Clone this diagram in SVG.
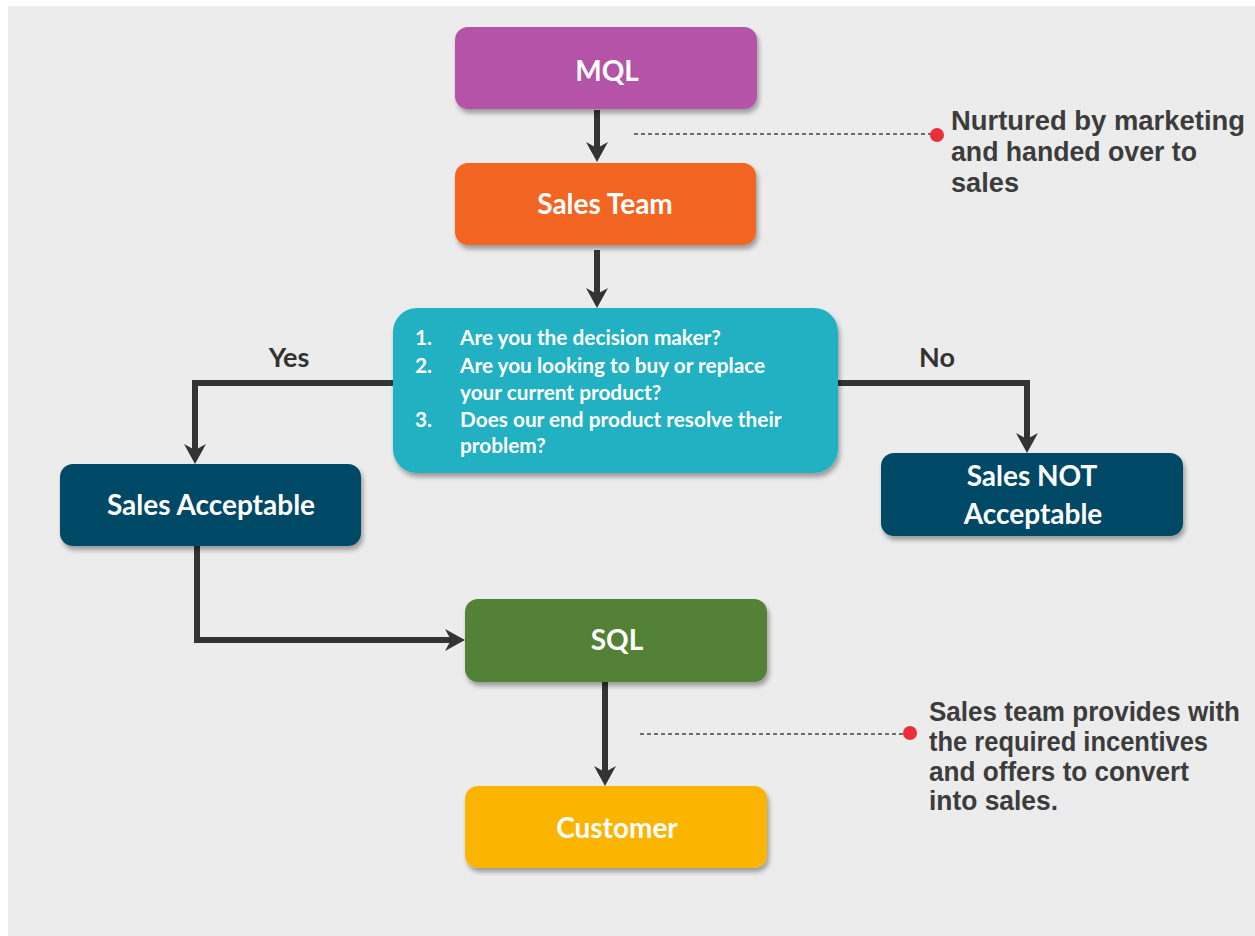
<svg xmlns="http://www.w3.org/2000/svg" width="1255" height="936" viewBox="0 0 1255 936">
<style>
.lbl{font-family:Lato,"Open Sans","Liberation Sans",sans-serif;font-weight:bold;fill:#ffffff;text-anchor:middle;font-size:28px}
.q{font-family:Lato,"Open Sans","Liberation Sans",sans-serif;font-weight:bold;fill:#ffffff;font-size:20.8px}
.note{font-family:"Liberation Sans",Arial,sans-serif;font-weight:bold;fill:#3c3c3c;font-size:27px}
.yn{font-family:Lato,"Open Sans","Liberation Sans",sans-serif;font-weight:bold;fill:#333333;font-size:27px;text-anchor:middle}
.conn{fill:none;stroke:#333333;stroke-width:6;marker-end:url(#ah)}
.dash{fill:none;stroke:#444444;stroke-width:1.5;stroke-dasharray:4 3}
.dot{fill:#e8303a}
</style>
<defs>
<filter id="sh" x="-10%" y="-10%" width="130%" height="140%">
<feGaussianBlur in="SourceAlpha" stdDeviation="2.5"/>
<feOffset dx="2" dy="4" result="b"/>
<feComponentTransfer><feFuncA type="linear" slope="0.35"/></feComponentTransfer>
<feMerge><feMergeNode/><feMergeNode in="SourceGraphic"/></feMerge>
</filter>
<marker id="ah" viewBox="0 0 20 22" markerWidth="20" markerHeight="22" refX="10" refY="11" orient="auto" markerUnits="userSpaceOnUse">
<path d="M0,0 L20,11 L0,22 L6,11 z" fill="#333333"/>
</marker>
</defs>
<rect x="0" y="0" width="1255" height="936" fill="#ffffff"/>
<rect x="8" y="6" width="1247" height="930" fill="#ececec"/>

<g id="connectors">
<path class="conn" d="M597,110 V152"/>
<path class="conn" d="M597,250 V298"/>
<path class="conn" d="M393,383 H195 V454"/>
<path class="conn" d="M838,383 H1027 V443"/>
<path class="conn" d="M197,546 V640 H455"/>
<path class="conn" d="M605,682 V776"/>
<path class="dash" d="M634,134 H932"/>
<circle class="dot" cx="937" cy="135" r="7"/>
<path class="dash" d="M640,734 H905"/>
<circle class="dot" cx="910" cy="733" r="7"/>
<text class="yn" x="289" y="367">Yes</text>
<text class="yn" x="937" y="367">No</text>
</g>

<g id="mql">
<rect x="455" y="27" width="302" height="82" rx="13" fill="#b452a8" filter="url(#sh)"/>
<text class="lbl" x="607" y="81" font-size="26">MQL</text>
</g>
<g id="sales-team">
<rect x="455" y="163" width="301" height="82" rx="13" fill="#f26522" filter="url(#sh)"/>
<text class="lbl" x="605" y="214">Sales Team</text>
</g>
<g id="questions">
<rect x="393" y="308" width="445" height="165" rx="24" fill="#20b1c2" filter="url(#sh)"/>
<text class="q" x="415" y="345">1.</text>
<text class="q" x="460" y="345">Are you the decision maker?</text>
<text class="q" x="415" y="373">2.</text>
<text class="q" x="460" y="373">Are you looking to buy or replace</text>
<text class="q" x="460" y="400">your current product?</text>
<text class="q" x="415" y="427">3.</text>
<text class="q" x="460" y="427">Does our end product resolve their</text>
<text class="q" x="460" y="453">problem?</text>
</g>
<g id="sales-acceptable">
<rect x="60" y="464" width="301" height="82" rx="13" fill="#034a66" filter="url(#sh)"/>
<text class="lbl" x="211" y="515">Sales Acceptable</text>
</g>
<g id="sales-not-acceptable">
<rect x="881" y="453" width="302" height="83" rx="13" fill="#034a66" filter="url(#sh)"/>
<text class="lbl" x="1032" y="486">Sales NOT</text>
<text class="lbl" x="1033" y="524">Acceptable</text>
</g>
<g id="sql">
<rect x="465" y="599" width="302" height="83" rx="13" fill="#538135" filter="url(#sh)"/>
<text class="lbl" x="617" y="650" font-size="26">SQL</text>
</g>
<g id="customer">
<rect x="465" y="786" width="302" height="82" rx="13" fill="#fbb400" filter="url(#sh)"/>
<text class="lbl" x="617" y="838">Customer</text>
</g>

<g id="note-1">
<text class="note" x="951" y="130" textLength="294" lengthAdjust="spacingAndGlyphs">Nurtured by marketing</text>
<text class="note" x="951" y="161" textLength="246" lengthAdjust="spacingAndGlyphs">and handed over to</text>
<text class="note" x="951" y="192" textLength="68" lengthAdjust="spacingAndGlyphs">sales</text>
</g>
<g id="note-2">
<text class="note" x="929" y="721" textLength="311" lengthAdjust="spacingAndGlyphs">Sales team provides with</text>
<text class="note" x="929" y="751" textLength="279" lengthAdjust="spacingAndGlyphs">the required incentives</text>
<text class="note" x="929" y="781" textLength="260" lengthAdjust="spacingAndGlyphs">and offers to convert</text>
<text class="note" x="929" y="810" textLength="129" lengthAdjust="spacingAndGlyphs">into sales.</text>
</g>
</svg>
